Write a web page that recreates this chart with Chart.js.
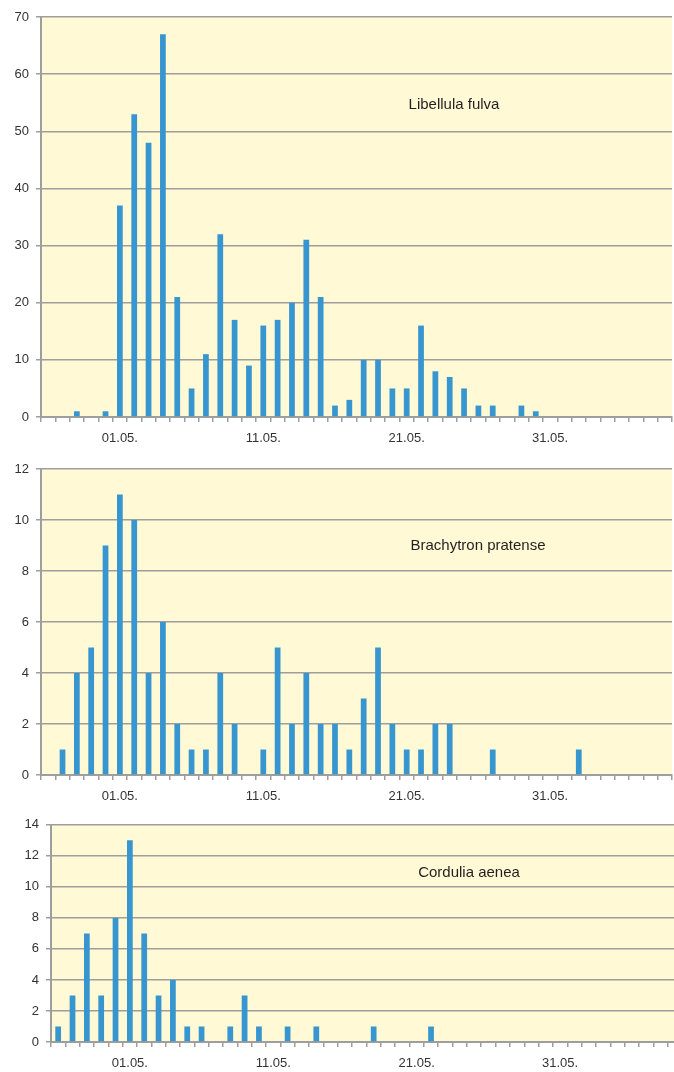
<!DOCTYPE html>
<html>
<head>
<meta charset="utf-8">
<script src="https://cdn.jsdelivr.net/npm/chart.js@4/dist/chart.umd.min.js"></script>
<style>
  html, body { margin: 0; padding: 0; background: #fff; overflow: hidden; }
  #page { position: relative; width: 674px; height: 1072px; overflow: hidden; }
  canvas { position: absolute; left: 0; }
  .title {
    position: absolute; transform: translate(-50%, -50%); white-space: nowrap;
    font: 15px "Liberation Sans", Arial, sans-serif; color: #231f20;
  }
</style>
</head>
<body>
<div id="page">
  <canvas id="c1" width="674" height="450" style="top:0px"></canvas>
  <canvas id="c2" width="674" height="360" style="top:450px"></canvas>
  <canvas id="c3" width="684" height="262" style="top:810px"></canvas>
  <div class="title" style="left:454px; top:103px">Libellula fulva</div>
  <div class="title" style="left:478px; top:544px">Brachytron pratense</div>
  <div class="title" style="left:469px; top:871px">Cordulia aenea</div>
</div>
<script>
// days from 26.04. to 08.06.
const categories = [
  '26.04.','27.04.','28.04.','29.04.','30.04.',
  '01.05.','02.05.','03.05.','04.05.','05.05.','06.05.','07.05.','08.05.','09.05.','10.05.',
  '11.05.','12.05.','13.05.','14.05.','15.05.','16.05.','17.05.','18.05.','19.05.','20.05.',
  '21.05.','22.05.','23.05.','24.05.','25.05.','26.05.','27.05.','28.05.','29.05.','30.05.',
  '31.05.','01.06.','02.06.','03.06.','04.06.','05.06.','06.06.','07.06.','08.06.'
];
const tickLabels = ['01.05.', '11.05.', '21.05.', '31.05.'];

const libellulaFulva = [0,0,1,0,1, 37,53,48,67,21, 5,11,32,17,9, 16,17,20,31,21,
  2,3,10,10,5, 5,16,8,7,5, 2,2,0,2,1, 0,0,0,0,0, 0,0,0,0];
const brachytronPratense = [0,1,4,5,9, 11,10,4,6,2, 1,1,4,2,0, 1,5,2,4,2,
  2,1,3,5,2, 1,1,2,2,0, 0,1,0,0,0, 0,0,1,0,0, 0,0,0,0];
const corduliaAenea = [1,3,7,3,8, 13,7,3,4,1, 1,0,1,3,1, 0,1,0,1,0,
  0,0,1,0,0, 0,1,0,0,0, 0,0,0,0,0, 0,0,0,0,0, 0,0,0,0];

const GRAY = '#9e9e9e';
const FONT = { family: '"Liberation Sans", Arial, sans-serif', size: 13 };

const plotBg = {
  id: 'plotBg',
  beforeDraw(chart) {
    const { ctx, chartArea: a } = chart;
    ctx.save();
    ctx.fillStyle = '#fff9d5';
    ctx.fillRect(a.left, a.top, a.width, a.height);
    ctx.restore();
  }
};

function makeChart(id, values, yMax, pad) {
  return new Chart(document.getElementById(id), {
    type: 'bar',
    data: {
      labels: categories,
      datasets: [{
        data: values,
        backgroundColor: '#3796cf',
        barPercentage: 0.4,
        categoryPercentage: 1
      }]
    },
    options: {
      responsive: false,
      animation: false,
      layout: { padding: pad },
      plugins: { legend: { display: false }, tooltip: { enabled: false } },
      scales: {
        x: {
          grid: { display: true, drawOnChartArea: false, offset: true, tickLength: 5, color: GRAY, lineWidth: 1.5 },
          border: { color: GRAY, width: 2 },
          ticks: {
            autoSkip: false, maxRotation: 0, padding: 9, color: '#333', font: FONT,
            callback: (v, i) => tickLabels.includes(categories[i]) ? categories[i] : ''
          },
          afterFit: s => { s.height = 30; }
        },
        y: {
          min: 0, max: yMax,
          grid: { color: GRAY, lineWidth: 1.5, tickLength: 5 },
          border: { color: GRAY, width: 2 },
          ticks: { stepSize: yMax > 20 ? 10 : 2, padding: 7, color: '#333', font: FONT },
          afterFit: s => { s.width = 41; }
        }
      }
    },
    plugins: [plotBg]
  });
}

makeChart('c1', libellulaFulva, 70, { top: 17, right: 2, bottom: 3, left: 0 });
makeChart('c2', brachytronPratense, 12, { top: 19, right: 2, bottom: 5, left: 0 });
makeChart('c3', corduliaAenea, 14, { top: 13, right: 2, bottom: 0, left: 10 });
</script>
</body>
</html>
